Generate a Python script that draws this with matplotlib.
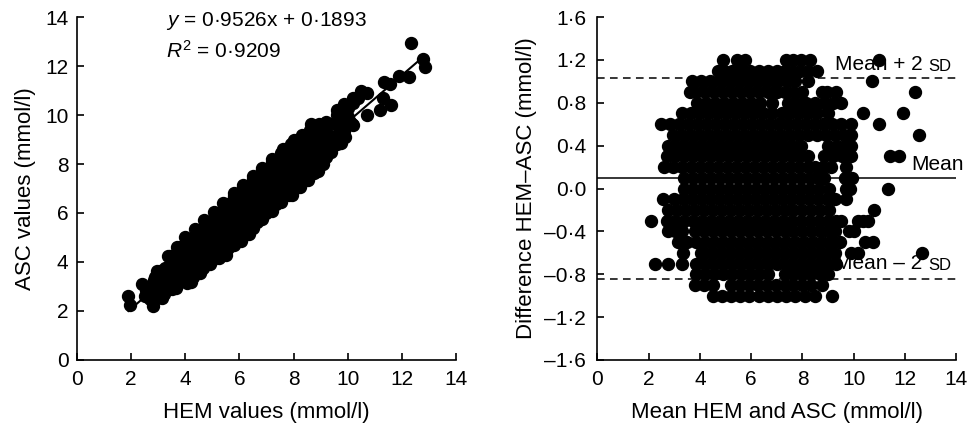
import numpy as np
import matplotlib.pyplot as plt

plt.rcParams['font.family'] = ['Liberation Sans', 'DejaVu Sans']
plt.rcParams['mathtext.fontset'] = 'custom'
plt.rcParams['mathtext.rm'] = 'Liberation Sans'
plt.rcParams['mathtext.it'] = 'Liberation Sans:italic'

# Bland-Altman data: difference levels (HEM-ASC) and the means seen on each level
diff_levels = [1.2, 1.1, 1.0, 0.9, 0.8, 0.7, 0.6, 0.5, 0.4, 0.3, 0.2, 0.1,
               0.0, -0.1, -0.2, -0.3, -0.4, -0.5, -0.6, -0.7, -0.8, -0.9, -1.0]
mean_rows = [
    [4.9, 5.45, 5.75, 7.35, 7.65, 7.95, 8.3, 11.0],
    [4.7, 4.95, 5.25, 5.6, 5.95, 6.3, 6.65, 7.0, 7.3, 7.6, 7.9, 8.2, 8.55],
    [3.7, 4.05, 4.4, 4.75, 5.1, 5.45, 5.8, 6.15, 6.5, 6.85, 7.05, 7.4, 7.7, 8.2, 10.7],
    [3.6, 3.85, 4.2, 4.55, 4.9, 5.25, 5.6, 5.95, 6.3, 6.65, 7.0, 7.3, 7.65, 8.0,
     8.75, 8.95, 9.3, 12.4],
    [3.9, 4.25, 4.6, 4.95, 5.3, 5.65, 6.0, 6.35, 6.8, 7.45, 7.8, 8.15, 8.5, 8.85,
     9.2, 9.5],
    [3.3, 3.65, 4.0, 4.35, 4.7, 5.05, 5.4, 5.75, 6.1, 6.45, 6.8, 7.2, 7.5, 7.85,
     8.2, 8.55, 9.0, 10.35, 11.9],
    [2.5, 2.85, 3.2, 3.55, 3.9, 4.25, 4.6, 4.95, 5.3, 5.65, 6.0, 6.35, 6.7, 7.05,
     7.4, 7.75, 8.1, 8.45, 8.8, 9.15, 9.5, 9.9, 11.0],
    [2.95, 3.3, 3.65, 4.0, 4.35, 4.7, 5.05, 5.4, 5.75, 6.1, 6.45, 6.8, 7.15, 7.5,
     7.85, 8.2, 8.55, 8.9, 9.25, 9.6, 9.9, 12.55],
    [2.75, 3.1, 3.45, 3.8, 4.15, 4.5, 4.85, 5.2, 5.55, 5.9, 6.25, 6.6, 6.95, 7.3,
     7.65, 7.95, 9.0, 9.35, 9.65, 9.9],
    [2.7, 3.05, 3.4, 3.75, 4.1, 4.45, 4.8, 5.15, 5.5, 5.85, 6.2, 6.55, 6.9, 7.25,
     7.6, 7.9, 8.2, 8.85, 9.2, 9.55, 9.9, 11.4, 11.75],
    [2.6, 2.95, 3.3, 3.65, 4.0, 4.35, 4.7, 5.05, 5.4, 5.75, 6.1, 6.45, 6.8, 7.15,
     7.5, 7.85, 8.2, 8.5, 8.8, 9.1, 9.7],
    [3.4, 3.75, 4.1, 4.45, 4.8, 5.15, 5.5, 5.85, 6.2, 6.55, 6.9, 7.25, 7.6, 7.95,
     8.3, 8.6, 8.85, 9.65, 9.95],
    [3.4, 3.75, 4.1, 4.45, 4.8, 5.15, 5.5, 5.85, 6.2, 6.55, 6.9, 7.25, 7.6, 7.95,
     8.3, 8.65, 9.05, 9.7, 9.85, 11.35],
    [2.55, 3.0, 3.35, 3.7, 4.05, 4.4, 4.75, 5.1, 5.45, 5.8, 6.15, 6.5, 6.85, 7.2,
     7.55, 7.9, 8.25, 8.6, 8.95, 9.25, 9.7],
    [2.75, 3.1, 3.45, 3.8, 4.15, 4.5, 4.85, 5.2, 5.55, 5.9, 6.25, 6.6, 6.95, 7.3,
     7.65, 8.0, 8.35, 8.7, 9.05, 10.8],
    [2.1, 2.7, 3.05, 3.4, 3.75, 4.1, 4.45, 4.8, 5.15, 5.5, 5.85, 6.2, 6.55, 6.9,
     7.25, 7.6, 7.95, 8.3, 8.65, 9.0, 9.3, 9.5, 10.15, 10.35, 10.55],
    [2.75, 3.05, 3.3, 3.8, 4.15, 4.5, 4.85, 5.2, 5.55, 5.9, 6.25, 6.6, 6.95, 7.3,
     7.65, 8.0, 8.35, 8.7, 9.0, 9.25, 9.8, 10.0],
    [3.15, 3.5, 3.85, 4.2, 4.55, 4.9, 5.25, 5.6, 5.95, 6.3, 6.65, 7.0, 7.35, 7.7,
     8.05, 8.4, 8.75, 9.1, 9.45, 10.45, 10.75],
    [3.35, 4.05, 4.4, 4.75, 5.1, 5.45, 5.8, 6.15, 6.5, 6.85, 7.2, 7.55, 7.9, 8.25,
     8.6, 8.95, 9.25, 9.9, 10.15, 12.65],
    [2.25, 2.75, 3.3, 3.85, 4.2, 4.55, 4.9, 5.25, 5.6, 5.95, 6.3, 6.65, 7.0, 7.35,
     7.7, 8.05, 8.4, 8.75, 9.05, 9.3],
    [3.85, 4.2, 4.55, 4.9, 5.25, 5.6, 5.95, 6.3, 6.65, 7.3, 7.65, 8.0, 8.35, 8.7, 9.0],
    [3.8, 4.15, 4.5, 5.2, 5.55, 5.9, 6.25, 6.6, 6.95, 7.3, 7.65, 8.0, 8.35, 8.75],
    [4.5, 4.85, 5.2, 5.55, 5.9, 6.3, 6.65, 7.0, 7.35, 7.7, 8.1, 8.5, 9.15],
]

# regression and agreement limits as printed on the chart
slope, intercept, r2 = 0.9526, 0.1893, 0.9209
fit_x = [1.9, 12.7]
mean_diff = 0.095
upper_loa = 1.035
lower_loa = -0.845

mean_vals = np.concatenate([np.array(r) for r in mean_rows])
diff_vals = np.concatenate([np.full(len(r), d) for r, d in zip(mean_rows, diff_levels)])
hem = mean_vals + diff_vals / 2
asc = mean_vals - diff_vals / 2

fs = 15
lfs = 16
ms = 8.6

def dot(v):
    s = f"{v:.1f}".replace('.', '·')
    if s.startswith('-'):
        s = '–' + s[1:]
    return '0·0' if s == '–0·0' else s

def style(ax):
    for side in ['top', 'right']:
        ax.spines[side].set_visible(False)
    for side in ['left', 'bottom']:
        ax.spines[side].set_linewidth(1.2)
    ax.tick_params(direction='in', length=5, width=1.2, labelsize=fs)
    ax.tick_params(axis='x', pad=7)

fig = plt.figure(figsize=(9.68, 4.26), dpi=100)

# left: ASC vs HEM
ax1 = fig.add_axes([0.0795, 0.155, 0.3915, 0.805])
ax1.plot(hem, asc, 'o', color='black', ms=ms, mec='black', clip_on=False)
fx = np.array(fit_x)
ax1.plot(fx, slope * fx + intercept, color='black', lw=1.5)
ax1.set_xlim(0, 14)
ax1.set_ylim(0, 14)
ax1.set_xticks(range(0, 15, 2))
ax1.set_yticks(range(0, 15, 2))
style(ax1)
ax1.tick_params(axis='y', pad=6)
ax1.set_xlabel('HEM values (mmol/l)', fontsize=lfs)
ax1.set_ylabel('ASC values (mmol/l)', fontsize=lfs)
ax1.xaxis.set_label_coords(0.5, -0.122)
ax1.yaxis.set_label_coords(-0.108, 0.5)
ax1.text(3.3, 13.85, '$y$ = 0·9526x + 0·1893', fontsize=fs, va='center')
ax1.text(3.3, 12.6, '$R^2$ = ' + f'{r2:.4f}'.replace('.', '·'), fontsize=fs, va='center')

# right: Bland-Altman
ax2 = fig.add_axes([0.617, 0.155, 0.371, 0.805])
ax2.axhline(mean_diff, color='black', lw=1.1)
ax2.axhline(upper_loa, color='black', lw=1.1, dashes=(5, 3.5))
ax2.axhline(lower_loa, color='black', lw=1.1, dashes=(5, 3.5))
ax2.plot(mean_vals, diff_vals, 'o', color='black', ms=ms, mec='black', clip_on=False)
ax2.set_xlim(0, 14)
ax2.set_ylim(-1.6, 1.6)
ax2.set_xticks(range(0, 15, 2))
yt = np.round(np.arange(-1.6, 1.61, 0.4), 1)
ax2.set_yticks(yt)
ax2.set_yticklabels([dot(v) for v in yt])
style(ax2)
ax2.tick_params(axis='y', pad=8)
ax2.set_xlabel('Mean HEM and ASC (mmol/l)', fontsize=lfs)
ax2.set_ylabel('Difference HEM–ASC (mmol/l)', fontsize=lfs)
ax2.xaxis.set_label_coords(0.5, -0.122)
ax2.yaxis.set_label_coords(-0.167, 0.5)

sd_up = ax2.text(13.8, upper_loa + 0.03, 'SD', fontsize=12, ha='right', va='bottom')
ax2.annotate('Mean + 2 ', xy=(0, 0), xycoords=sd_up, fontsize=fs, ha='right', va='bottom')
ax2.text(14.3, mean_diff + 0.04, 'Mean', fontsize=fs, ha='right', va='bottom', clip_on=False)
sd_lo = ax2.text(13.8, lower_loa + 0.06, 'SD', fontsize=12, ha='right', va='bottom')
ax2.annotate('Mean – 2 ', xy=(0, 0), xycoords=sd_lo, fontsize=fs, ha='right', va='bottom')

fig.savefig('out.png', dpi=100)
